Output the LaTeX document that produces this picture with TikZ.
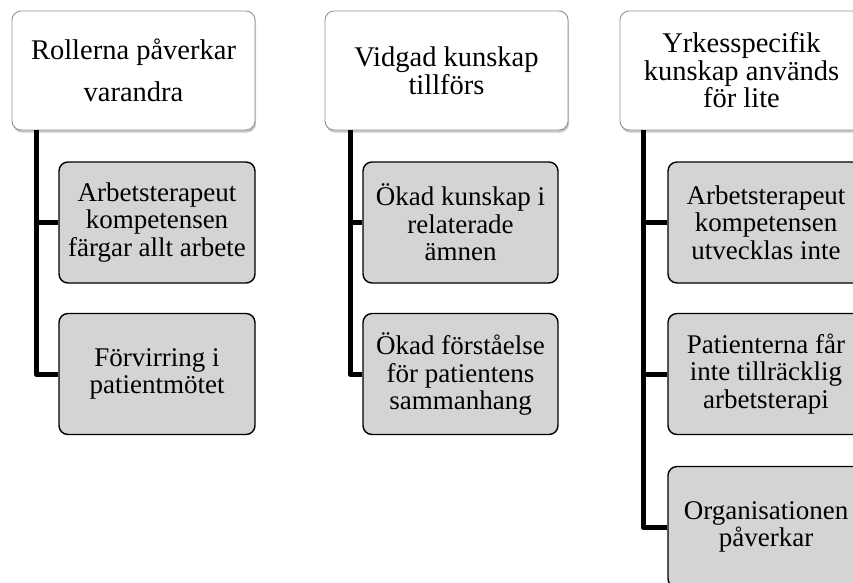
\documentclass[tikz,border=0pt]{standalone}
\usepackage{fontspec}
\setmainfont{Liberation Serif}
\usetikzlibrary{positioning}
\usetikzlibrary{shadows}

\begin{document}
\begin{tikzpicture}[
    x = 1pt, y = -1pt,
    theme/.style = {shape = rectangle, rounded corners = 9pt, draw = gray!85, line width = 0.9pt, fill = white, minimum width = 243pt, minimum height = 119pt, align = center, inner sep = 2pt, font = \fontsize{28.5}{27.5}\selectfont, drop shadow = {shadow xshift = 1pt, shadow yshift = -2.5pt, fill = gray, opacity = 0.45}},
    sub/.style = {shape = rectangle, rounded corners = 9pt, draw = black, line width = 1.4pt, fill = black!17, minimum width = 196pt, minimum height = 121pt, align = center, inner sep = 2pt, font = \fontsize{27}{27.5}\selectfont},
    spine/.style = {line width = 5pt, line join = round},
    ]
    \useasboundingbox (0, 0) rectangle (853, 582);
    \clip (0, 0) rectangle (853, 582);

    \node[theme, font = \fontsize{28.5}{42}\selectfont] (T1) at (133.5, 70.5) {Rollerna påverkar\\varandra};
    \node[sub] (S11) at (157, 222.5) {Arbetsterapeut\\kompetensen\\färgar allt arbete};
    \node[sub] (S12) at (157, 374) {Förvirring i\\patientmötet};

    \coordinate (R1) at (36, 130);
    \draw[spine] (R1) |- (S12.west);
    \draw[spine] (R1 |- S11.west) -- (S11.west);

    \node[theme] (T2) at (446.5, 70.5) {Vidgad kunskap\\tillförs};
    \node[sub, minimum width = 195pt] (S21) at (460.5, 222.5) {Ökad kunskap i\\relaterade\\ämnen};
    \node[sub, minimum width = 195pt] (S22) at (460.5, 374) {Ökad förståelse\\för patientens\\sammanhang};

    \coordinate (R2) at (350, 130);
    \draw[spine] (R2) |- (S22.west);
    \draw[spine] (R2 |- S21.west) -- (S21.west);

    \node[theme] (T3) at (741.5, 70.5) {Yrkesspecifik\\kunskap används\\för lite};
    \node[sub] (S31) at (766, 222.5) {Arbetsterapeut\\kompetensen\\utvecklas inte};
    \node[sub] (S32) at (766, 374) {Patienterna får\\inte tillräcklig\\arbetsterapi};
    \node[sub] (S33) at (766, 527) {Organisationen\\påverkar};

    \coordinate (R3) at (643, 130);
    \draw[spine] (R3) |- (S33.west);
    \draw[spine] (R3 |- S31.west) -- (S31.west);
    \draw[spine] (R3 |- S32.west) -- (S32.west);
\end{tikzpicture}
\end{document}
